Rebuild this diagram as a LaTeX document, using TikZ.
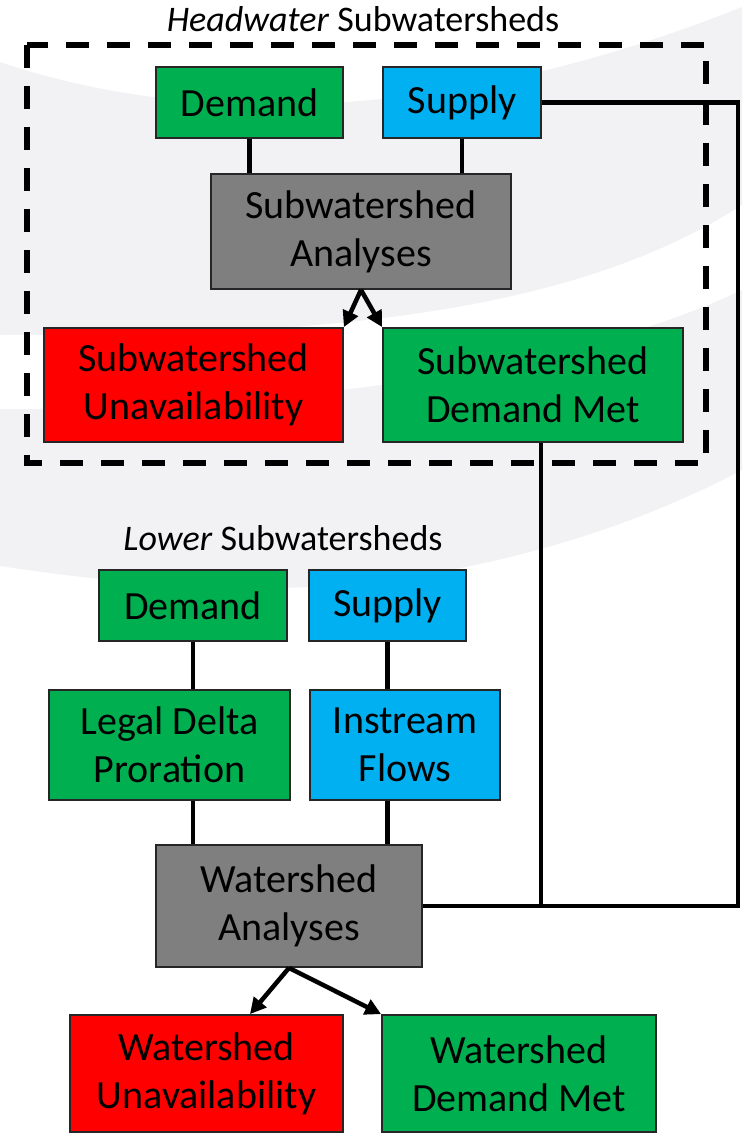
\documentclass[tikz,border=0pt]{standalone}
\usepackage{fontspec}
\setmainfont{Carlito}
\usetikzlibrary{arrows.meta,positioning}
\definecolor{bggray}{RGB}{242,242,244}
\definecolor{boxgreen}{RGB}{0,176,80}
\definecolor{boxblue}{RGB}{0,176,240}
\definecolor{boxred}{RGB}{255,0,0}
\definecolor{boxgray}{RGB}{127,127,127}

\begin{document}
\begin{tikzpicture}[x=1pt,y=-1pt,
  box/.style={draw=black!85,line width=1.8pt,inner sep=0pt,align=center,
    font=\fontsize{40}{48}\selectfont},
  dem/.style={box,fill=boxgreen},
  sup/.style={box,fill=boxblue},
  ana/.style={box,fill=boxgray},
  unav/.style={box,fill=boxred},
  title/.style={anchor=base,font=\fontsize{36}{43}\selectfont},
  link/.style={line width=4.5pt},
  flow/.style={line width=4.5pt,-{Triangle[length=16pt,width=16pt]}},
  hwframe/.style={line width=5.5pt,dash pattern=on 23pt off 18pt}]
  \useasboundingbox (0,0) rectangle (742,1134);
  % slide background
  \fill[white] (0,0) rectangle (742,1134);
  \fill[bggray] (0,62) .. controls (200,130) and (460,120) .. (742,7)
    -- (742,470) .. controls (600,545) and (420,590) .. (250,588)
    .. controls (150,587) and (60,575) .. (0,566) -- cycle;
  \fill[white] (0,335) .. controls (250,335) and (550,330) .. (742,205)
    -- (742,290) .. controls (550,380) and (250,409) .. (0,409) -- cycle;

  % headwater subwatersheds
  \node[title] (hwtitle) at (363,32) {\textit{Headwater} Subwatersheds};
  \draw[hwframe] (27,45) rectangle (706,463);
  \node[dem,minimum width=187,minimum height=71] (hwdem) at (249.5,102.5) {Demand};
  \node[sup,minimum width=158,minimum height=71] (hwsup) at (462,102.5) {Supply};
  \node[ana,minimum width=300,minimum height=115] (hwana) at (361,231.5) {Subwatershed\\Analyses};
  \node[unav,minimum width=299,minimum height=114] (hwunav) at (193.5,385) {Subwatershed\\Unavailability};
  \node[dem,minimum width=300,minimum height=114] (hwmet) at (533,385) {Subwatershed\\Demand Met};

  % lower subwatersheds
  \node[title] (lotitle) at (283,550) {\textit{Lower} Subwatersheds};
  \node[dem,minimum width=188,minimum height=71] (lodem) at (193,605.5) {Demand};
  \node[sup,minimum width=157,minimum height=71] (losup) at (387.5,605.5) {Supply};
  \node[dem,minimum width=241,minimum height=110] (lodelta) at (169.5,745) {Legal Delta\\Proration};
  \node[sup,minimum width=190,minimum height=110] (loflow) at (405,745) {Instream\\Flows};
  \node[ana,minimum width=266,minimum height=122] (wana) at (289,906) {Watershed\\Analyses};
  \node[unav,minimum width=273,minimum height=117] (wunav) at (206.5,1073.5) {Watershed\\Unavailability};
  \node[dem,minimum width=274,minimum height=117] (wmet) at (519,1073.5) {Watershed\\Demand Met};

  \coordinate (rail) at (738,0);
  \coordinate (drop) at (541,0);

  \draw[link] (hwdem.south) -- (hwdem.south |- hwana.north);
  \draw[link] (hwsup.south) -- (hwsup.south |- hwana.north);
  \draw[link] (lodem.south) -- (lodem.south |- lodelta.north);
  \draw[link] (lodem.south |- lodelta.south) -- (lodem.south |- wana.north);
  \draw[link] (losup.south) -- (losup.south |- loflow.north);
  \draw[link] (losup.south |- loflow.south) -- (losup.south |- wana.north);
  \draw[link] (hwsup.east) -| (rail |- wana.east) -- (wana.east);
  \draw[link] (drop |- hwmet.south) -- (drop |- wana.east);
  \path[flow]
    (hwana.south) edge (hwunav.north east)
    (hwana.south) edge (hwmet.north west)
    (wana.south) edge ([xshift=43.5pt]wunav.north)
    (wana.south) edge (wmet.north west);
\end{tikzpicture}
\end{document}
